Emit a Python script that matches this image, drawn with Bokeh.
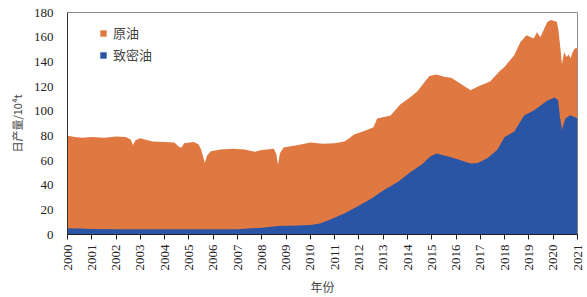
import math
from bokeh.plotting import figure
from bokeh.models import FixedTicker, Legend, LegendItem
from bokeh.embed import file_html
from bokeh.resources import INLINE

# Total crude oil daily production (10^4 t)
crude_years = [2000.0, 2000.3, 2000.6, 2001.0, 2001.5, 2002.0, 2002.4, 2002.6, 2002.7, 2002.8,
               2003.0, 2003.5, 2004.0, 2004.4, 2004.6, 2004.7, 2004.8, 2005.2, 2005.4, 2005.5,
               2005.6, 2005.65, 2005.75, 2005.9, 2006.3, 2006.8, 2007.3, 2007.7, 2008.0, 2008.5,
               2008.6, 2008.67, 2008.75, 2008.9, 2009.5, 2010.0, 2010.5, 2011.0, 2011.4, 2011.6,
               2011.8, 2012.3, 2012.6, 2012.75, 2013.3, 2013.7, 2014.1, 2014.4, 2014.9, 2015.2,
               2015.5, 2015.8, 2016.2, 2016.6, 2016.9, 2017.4, 2017.8, 2018.0, 2018.4, 2018.65,
               2018.9, 2019.2, 2019.33, 2019.47, 2019.75, 2019.9, 2020.15, 2020.22, 2020.3, 2020.36,
               2020.45, 2020.55, 2020.63, 2020.72, 2020.8, 2020.9, 2021.0]
crude_values = [80, 79, 78.5, 79, 78.5, 79.5, 79, 77, 72.5, 76.5,
                78, 75.5, 75, 74.5, 71, 70.5, 74, 75, 73, 69,
                62, 58, 64, 67.5, 69, 69.5, 69, 67, 68.5, 69.5,
                65, 56.5, 66, 70.5, 72.5, 74.5, 73.5, 74, 75.5, 78,
                81, 84.5, 87, 94, 96.5, 105.5, 111, 116, 128.5, 129.8,
                128, 127, 122, 117, 120, 124, 132.5, 136, 145.5, 156,
                161.5, 159, 164, 160, 172, 174, 172.5, 165, 150, 138,
                148, 144, 146, 143, 148, 151, 151]

# Tight oil daily production (10^4 t)
tight_years = [2000.0, 2000.5, 2001.0, 2002.0, 2004.0, 2006.0, 2007.0, 2008.0, 2008.7, 2009.5,
               2010.0, 2010.4, 2010.8, 2011.4, 2011.9, 2012.5, 2013.0, 2013.6, 2014.1, 2014.6,
               2014.95, 2015.2, 2015.9, 2016.6, 2016.9, 2017.3, 2017.7, 2018.0, 2018.4, 2018.8,
               2019.2, 2019.75, 2020.05, 2020.2, 2020.28, 2020.36, 2020.5, 2020.7, 2020.9, 2021.0]
tight_values = [5, 4.8, 4.5, 4.3, 4.2, 4.2, 4.3, 5.5, 6.9, 7.3,
                7.7, 9, 12, 17, 22.3, 29, 35.6, 42.5, 50.2, 57,
                63.5, 65.6, 62, 57.6, 58, 62, 68.8, 79, 83.5, 96.5,
                100.5, 108.5, 111, 109, 95, 85, 94, 96.6, 95, 94]

series_names = ["原油", "致密油"]
year_ticks = list(range(2000, 2022))
year_labels = [str(y) for y in year_ticks]
y_ticks = [0, 20, 40, 60, 80, 100, 120, 140, 160, 180]

ORANGE = "#E07842"
BLUE = "#2A55A5"
SERIF = "Liberation Serif"

p = figure(width=587, height=297, output_backend="svg", toolbar_location=None,
           x_range=(2000, 2021), y_range=(0, 180),
           min_border_left=67, min_border_right=10, min_border_top=12, min_border_bottom=58)

r1 = p.varea(x=crude_years, y1=0, y2=crude_values, fill_color=ORANGE)
r2 = p.varea(x=tight_years, y1=0, y2=tight_values, fill_color=BLUE)

p.xgrid.visible = False
p.ygrid.visible = False
p.outline_line_color = "#8C8C8C"
p.outline_line_width = 1
p.background_fill_color = "white"
p.border_fill_color = "white"

# x axis
p.xaxis.ticker = FixedTicker(ticks=year_ticks)
p.xaxis.major_label_overrides = {t: l for t, l in zip(year_ticks, year_labels)}
p.xaxis.major_label_orientation = math.pi / 2
p.xaxis.major_label_text_font = SERIF
p.xaxis.major_label_text_font_size = "13px"
p.xaxis.major_label_text_color = "#222222"
p.xaxis.major_tick_in = 0
p.xaxis.major_tick_out = 5
p.xaxis.minor_tick_line_color = None
p.xaxis.axis_line_color = "#222222"
p.xaxis.major_tick_line_color = "#222222"
p.xaxis.axis_label = "年份"
p.xaxis.axis_label_text_font = "Noto Sans CJK SC"
p.xaxis.axis_label_text_font_style = "normal"
p.xaxis.axis_label_text_font_size = "12px"
p.xaxis.axis_label_standoff = 4

# y axis
p.yaxis.ticker = FixedTicker(ticks=y_ticks)
p.yaxis.major_label_text_font = SERIF
p.yaxis.major_label_text_font_size = "13px"
p.yaxis.major_label_text_color = "#222222"
p.yaxis.major_tick_line_color = None
p.yaxis.minor_tick_line_color = None
p.yaxis.major_label_standoff = 8
p.yaxis.axis_line_color = "#333333"
p.yaxis.axis_label = "日产量/10⁴t"
p.yaxis.axis_label_text_font = "Noto Sans CJK SC"
p.yaxis.axis_label_text_font_style = "normal"
p.yaxis.axis_label_text_font_size = "11px"
p.yaxis.axis_label_standoff = 6

legend = Legend(items=[LegendItem(label=series_names[0], renderers=[r1]),
                       LegendItem(label=series_names[1], renderers=[r2])],
                location=(32, 170), margin=0, padding=6, spacing=3,
                glyph_width=8, glyph_height=8, label_standoff=6,
                label_text_font="Noto Sans CJK SC", label_text_font_size="13px",
                border_line_color=None, background_fill_color="white",
                background_fill_alpha=1.0)
p.add_layout(legend)

open("out.html", "w").write(file_html(p, INLINE))
